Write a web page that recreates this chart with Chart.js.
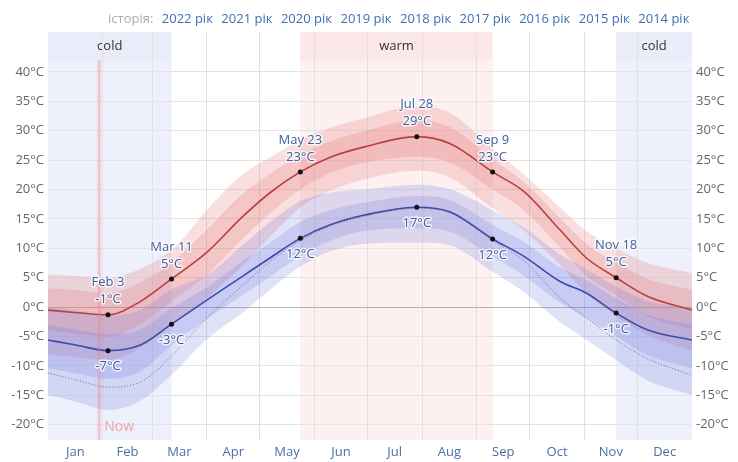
<!DOCTYPE html>
<html>
<head>
<meta charset="utf-8">
<script src="https://cdn.jsdelivr.net/npm/chart.js@4.4.0/dist/chart.umd.min.js"></script>
<style>
  body { margin: 0; background: #fff; font-family: "Open Sans", sans-serif; }
  #wrap { position: relative; width: 738px; height: 462px; }
  #history { position: absolute; top: 9px; left: 108px; font-size: 13px; line-height: 18px; color: #a8acb2; white-space: nowrap; }
  #history span { color: #3f6fb0; margin-left: 8.5px; }
</style>
</head>
<body>
<div id="wrap">
  <canvas id="chart" width="738" height="462"></canvas>
  <div id="history">історія:</div>
</div>
<script>
// day of year for each reading
var days     = [0, 15, 34, 52, 70, 90, 110, 126, 143, 160, 180, 209, 228, 252, 270, 290, 305, 322, 340, 365];
// average daily high and its percentile bands
var avgHigh  = [-0.5, -0.9, -1.3, 0.9, 4.8, 9.3, 15.3, 19.5, 23.0, 25.5, 27.3, 29.0, 27.8, 23.0, 19.6, 13.2, 8.4, 5.0, 1.8, -0.5];
var high90   = [5.5, 5.3, 5.0, 6.5, 9.7, 16.5, 22.5, 25.5, 28.4, 30.5, 32.2, 34.2, 33.0, 27.0, 22.5, 17.0, 13.0, 10.0, 7.5, 5.8];
var high75   = [3.2, 2.9, 2.4, 4.2, 7.6, 13.2, 19.2, 22.7, 25.9, 28.2, 30.0, 31.8, 30.6, 25.2, 21.2, 15.2, 10.8, 7.6, 4.8, 3.0];
var high25   = [-4.0, -4.5, -5.0, -3.0, 1.0, 5.5, 11.5, 16.0, 20.0, 22.8, 24.6, 25.6, 24.6, 20.0, 16.4, 10.2, 5.4, 2.0, -1.5, -3.8];
var high10   = [-8.0, -8.5, -9.0, -7.0, -3.0, 1.5, 7.0, 12.0, 17.0, 19.8, 21.8, 23.2, 22.0, 16.8, 13.0, 7.2, 2.4, -1.5, -4.8, -7.5];
// average daily low and its percentile bands
var avgLow   = [-5.6, -6.4, -7.4, -6.5, -2.9, 1.2, 5.2, 8.4, 11.7, 14.0, 15.7, 17.0, 16.2, 11.6, 8.6, 4.4, 2.4, -1.0, -3.9, -5.6];
var low90    = [0.0, -0.5, -1.5, -0.5, 3.0, 5.5, 10.5, 14.5, 18.0, 19.5, 20.0, 20.8, 20.0, 16.5, 13.5, 9.0, 6.5, 3.5, 1.0, 0.0];
var low75    = [-3.0, -3.8, -4.6, -3.8, -0.2, 3.4, 7.8, 11.0, 14.5, 16.5, 17.8, 18.9, 18.2, 14.0, 11.0, 6.8, 4.6, 1.5, -1.3, -3.0];
var low25    = [-10.4, -11.2, -12.2, -11.0, -6.5, -2.0, 2.0, 5.2, 8.7, 11.3, 13.0, 13.4, 12.8, 8.6, 5.3, 0.8, -1.8, -5.0, -8.2, -10.4];
var low10    = [-15.0, -16.0, -17.5, -16.0, -11.5, -5.5, -1.0, 3.0, 6.9, 9.5, 10.8, 11.0, 10.5, 6.0, 2.5, -2.5, -5.5, -9.0, -12.5, -15.0];
// perceived low (dotted)
var feelsLow = [-11.2, -12.3, -13.6, -12.8, -8.3, -1.8, 3.6, 7.8, 11.3, 13.8, 15.5, 16.8, 16.0, 11.3, 7.8, 1.6, -1.8, -5.6, -8.8, -11.6];

var markDays  = [34, 70, 143, 209, 252, 322];
var markNames = ["Feb 3", "Mar 11", "May 23", "Jul 28", "Sep 9", "Nov 18"];

var months      = ["Jan", "Feb", "Mar", "Apr", "May", "Jun", "Jul", "Aug", "Sep", "Oct", "Nov", "Dec"];
var monthStarts = [0, 31, 59, 90, 120, 151, 181, 212, 243, 273, 304, 334, 365];
var yTicks      = [-20, -15, -10, -5, 0, 5, 10, 15, 20, 25, 30, 35, 40];

var coldSeasons = [[0, 70], [322, 365]];
var warmSeasons = [[143, 252]];
var nowDay = 29;

var years = ["2022", "2021", "2020", "2019", "2018", "2017", "2016", "2015", "2014"];

var hist = document.getElementById("history");
years.forEach(function (y) {
  var s = document.createElement("span");
  s.textContent = y + " рік";
  hist.appendChild(s);
});

function pts(arr) {
  return days.map(function (d, i) { return { x: d, y: arr[i] }; });
}

var monthMids = months.map(function (m, i) { return (monthStarts[i] + monthStarts[i + 1]) / 2; });

var redFill = "rgba(228,110,110,0.22)";
var blueFill = "rgba(110,120,220,0.21)";

function band(arr, fill, order) {
  return {
    data: pts(arr), borderWidth: 0, pointRadius: 0, fill: fill ? "+1" : false,
    backgroundColor: fill || "transparent", cubicInterpolationMode: "monotone", order: order
  };
}

var seasonPlugin = {
  id: "seasons",
  beforeDraw: function (chart) {
    var ctx = chart.ctx, a = chart.chartArea, x = chart.scales.x;
    ctx.save();
    function box(r, body, head, label) {
      var x1 = x.getPixelForValue(r[0]), x2 = x.getPixelForValue(r[1]);
      ctx.fillStyle = body;
      ctx.fillRect(x1, a.top, x2 - x1, a.bottom - a.top);
      ctx.fillStyle = head;
      ctx.fillRect(x1, a.top, x2 - x1, 28);
      ctx.fillStyle = "#333";
      ctx.font = '13px "Open Sans"';
      ctx.textAlign = "center";
      ctx.textBaseline = "middle";
      ctx.fillText(label, (x1 + x2) / 2, a.top + 14);
    }
    coldSeasons.forEach(function (r) { box(r, "#eef0fb", "#eaedf9", "cold"); });
    warmSeasons.forEach(function (r) { box(r, "#fdf0f0", "#fce8e8", "warm"); });
    ctx.restore();
  },
  afterDatasetsDraw: function (chart) {
    var ctx = chart.ctx, a = chart.chartArea, x = chart.scales.x, y = chart.scales.y;
    ctx.save();
    // now line
    var nx = x.getPixelForValue(nowDay);
    ctx.strokeStyle = "rgba(238,130,140,0.4)";
    ctx.lineWidth = 3;
    ctx.beginPath();
    ctx.moveTo(nx, a.top + 28);
    ctx.lineTo(nx, a.bottom);
    ctx.stroke();
    ctx.fillStyle = "#f2a3a3";
    ctx.font = '14px "Open Sans"';
    ctx.textAlign = "left";
    ctx.textBaseline = "middle";
    ctx.fillText("Now", nx + 5, a.bottom - 13);

    // point labels
    ctx.font = '13px "Open Sans"';
    ctx.textAlign = "center";
    ctx.lineWidth = 3;
    ctx.lineJoin = "round";
    ctx.strokeStyle = "rgba(255,255,255,0.75)";
    ctx.fillStyle = "#3d5f9c";
    function txt(t, px, py) {
      ctx.strokeText(t, px, py);
      ctx.fillText(t, px, py);
    }
    markDays.forEach(function (d, i) {
      var k = days.indexOf(d);
      var px = x.getPixelForValue(d);
      var hy = y.getPixelForValue(avgHigh[k]);
      var ly = y.getPixelForValue(avgLow[k]);
      txt(markNames[i], px, hy - 32);
      txt(Math.round(avgHigh[k]) + "°C", px, hy - 15);
      txt(Math.round(avgLow[k]) + "°C", px, ly + 16);
    });
    ctx.restore();
  }
};

var markPts = [];
markDays.forEach(function (d) {
  var k = days.indexOf(d);
  markPts.push({ x: d, y: avgHigh[k] });
  markPts.push({ x: d, y: avgLow[k] });
});

var ctx = document.getElementById("chart").getContext("2d");
var chart = new Chart(ctx, {
  type: "line",
  data: {
    datasets: [
      band(high90, redFill, 10), band(high10, null, 10),
      band(high75, redFill, 9), band(high25, null, 9),
      band(low90, blueFill, 8), band(low10, null, 8),
      band(low75, blueFill, 7), band(low25, null, 7),
      {
        data: pts(feelsLow), borderColor: "rgba(80,80,115,0.8)", borderWidth: 1,
        borderDash: [1, 2], pointRadius: 0, fill: false, cubicInterpolationMode: "monotone", order: 4
      },
      {
        data: pts(avgHigh), borderColor: "#b8403f", borderWidth: 1.6,
        pointRadius: 0, fill: false, cubicInterpolationMode: "monotone", order: 2
      },
      {
        data: pts(avgLow), borderColor: "#3f4aa8", borderWidth: 1.6,
        pointRadius: 0, fill: false, cubicInterpolationMode: "monotone", order: 2
      },
      {
        data: markPts, showLine: false, pointRadius: 2.5, pointBackgroundColor: "#111",
        pointBorderWidth: 0, order: 1
      }
    ]
  },
  options: {
    responsive: false,
    animation: false,
    layout: { padding: { top: 32, left: 0, right: 0, bottom: 0 } },
    plugins: { legend: { display: false }, tooltip: { enabled: false } },
    scales: {
      x: {
        type: "linear", min: 0, max: 365,
        border: { display: false },
        afterFit: function (s) { s.height = 22; },
        afterBuildTicks: function (s) {
          var t = monthStarts.slice(1, 12).concat(monthMids);
          t.sort(function (a, b) { return a - b; });
          s.ticks = t.map(function (v) { return { value: v }; });
        },
        grid: {
          drawTicks: false,
          color: function (c) {
            return c.tick && monthStarts.indexOf(c.tick.value) >= 0 ? "#e2e2e2" : "rgba(0,0,0,0)";
          }
        },
        ticks: {
          autoSkip: false, maxRotation: 0, padding: 4,
          color: "#4a6fa8", font: { family: "Open Sans", size: 13 },
          callback: function (v) {
            var i = monthMids.indexOf(v);
            return i >= 0 ? months[i] : "";
          }
        }
      },
      y: {
        position: "left", min: -22.6, max: 46.8,
        border: { display: false },
        afterFit: function (s) { s.width = 48; },
        afterBuildTicks: function (s) { s.ticks = yTicks.map(function (v) { return { value: v }; }); },
        grid: {
          drawTicks: false,
          color: function (c) { return c.tick && c.tick.value === 0 ? "#b4b4b4" : "#e4e4e4"; }
        },
        ticks: {
          padding: 4, color: "#666", font: { family: "Open Sans", size: 13 },
          callback: function (v) { return v + "°C"; }
        }
      },
      y2: {
        position: "right", min: -22.6, max: 46.8,
        border: { display: false },
        afterFit: function (s) { s.width = 46; },
        afterBuildTicks: function (s) { s.ticks = yTicks.map(function (v) { return { value: v }; }); },
        grid: { display: false, drawTicks: false },
        ticks: {
          padding: 4, color: "#666", font: { family: "Open Sans", size: 13 },
          callback: function (v) { return v + "°C"; }
        }
      }
    }
  },
  plugins: [seasonPlugin]
});
</script>
</body>
</html>
